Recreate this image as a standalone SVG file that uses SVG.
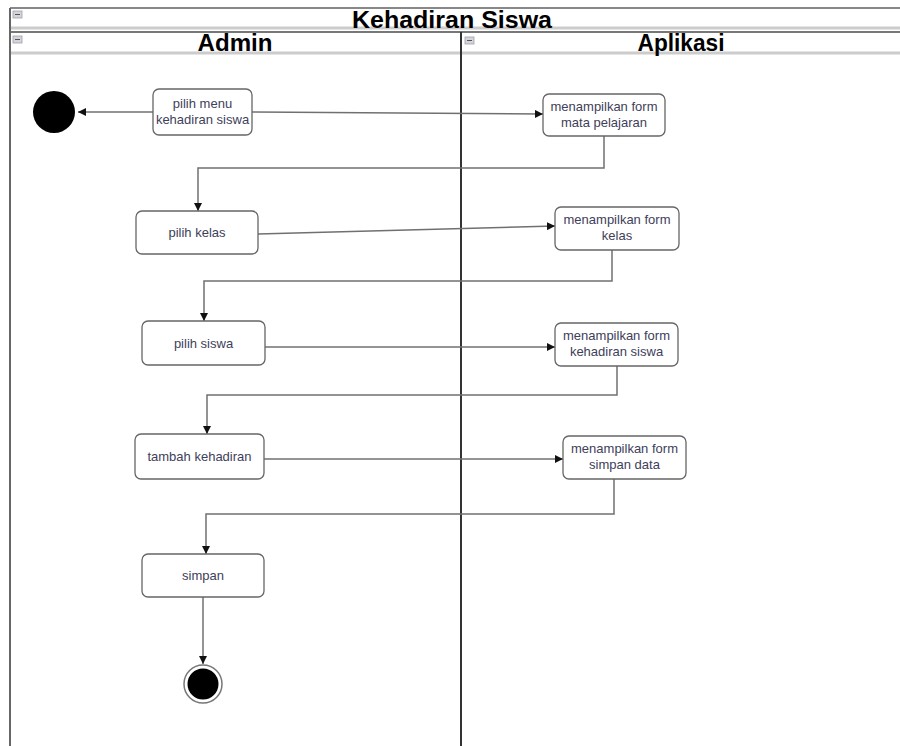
<svg xmlns="http://www.w3.org/2000/svg" width="900" height="746" viewBox="0 0 900 746">
<defs>
<style>
.hdr{font-family:"Liberation Sans",Arial,sans-serif;font-weight:bold;font-size:23px;fill:#000;text-anchor:middle}
.lbl{font-family:"Liberation Sans",Arial,sans-serif;font-size:13px;fill:#40405a;text-anchor:middle}
.box{fill:#fff;stroke:#666;stroke-width:1.3}
.con{fill:none;stroke:#707070;stroke-width:1.5}
.icon{fill:#d4d4dc;stroke:#a0a0a8;stroke-width:0.8}
</style>
<marker id="arr" viewBox="0 0 10 10" refX="10" refY="5" markerWidth="8" markerHeight="8" markerUnits="userSpaceOnUse" orient="auto">
<path d="M0,0 L10,5 L0,10 z" fill="#111"/>
</marker>
</defs>
<rect width="900" height="746" fill="#fff"/>
<g id="frame">
<line x1="10" y1="8" x2="900" y2="8" stroke="#888" stroke-width="2"/>
<line x1="10" y1="28" x2="900" y2="28" stroke="#ccc" stroke-width="3"/>
<line x1="10" y1="32" x2="900" y2="32" stroke="#777" stroke-width="2"/>
<line x1="10" y1="53" x2="900" y2="53" stroke="#ccc" stroke-width="3"/>
<line x1="10" y1="8" x2="10" y2="746" stroke="#666" stroke-width="2"/>
<line x1="461" y1="32" x2="461" y2="746" stroke="#333" stroke-width="2"/>
<rect class="icon" x="13" y="11" width="9" height="7"/>
<line x1="15" y1="14.5" x2="20" y2="14.5" stroke="#555" stroke-width="1"/>
<rect class="icon" x="13" y="36" width="9" height="7"/>
<line x1="15" y1="39.5" x2="20" y2="39.5" stroke="#555" stroke-width="1"/>
<rect class="icon" x="465" y="37" width="9" height="7"/>
<line x1="467" y1="40.5" x2="472" y2="40.5" stroke="#555" stroke-width="1"/>
<text class="hdr" x="452" y="28" textLength="200" lengthAdjust="spacingAndGlyphs">Kehadiran Siswa</text>
<text class="hdr" x="235" y="51" textLength="75" lengthAdjust="spacingAndGlyphs">Admin</text>
<text class="hdr" x="681" y="51" textLength="87" lengthAdjust="spacingAndGlyphs">Aplikasi</text>
</g>
<g id="connectors">
<line class="con" x1="153" y1="112" x2="78" y2="112" marker-end="url(#arr)"/>
<line class="con" x1="252" y1="112" x2="543" y2="114" marker-end="url(#arr)"/>
<polyline class="con" points="604,136 604,168 198,168 198,211" marker-end="url(#arr)"/>
<line class="con" x1="258" y1="234" x2="555" y2="226" marker-end="url(#arr)"/>
<polyline class="con" points="612,250 612,281 204,281 204,321" marker-end="url(#arr)"/>
<line class="con" x1="265" y1="347" x2="555" y2="347" marker-end="url(#arr)"/>
<polyline class="con" points="617,366 617,395 207,395 207,434" marker-end="url(#arr)"/>
<line class="con" x1="264" y1="459" x2="563" y2="459" marker-end="url(#arr)"/>
<polyline class="con" points="614,479 614,514 206,514 206,554" marker-end="url(#arr)"/>
<line class="con" x1="203" y1="597" x2="203" y2="664" marker-end="url(#arr)"/>
</g>
<g id="initial">
<circle cx="54" cy="112" r="21" fill="#000"/>
</g>
<g id="final">
<circle cx="203" cy="684" r="19" fill="#fff" stroke="#777" stroke-width="1.5"/>
<circle cx="203" cy="684" r="15.5" fill="#000"/>
</g>
<g id="n1">
<rect class="box" x="153" y="89" width="99" height="46" rx="6"/>
<text class="lbl" x="202.5" y="108">pilih menu</text>
<text class="lbl" x="202.5" y="124">kehadiran siswa</text>
</g>
<g id="n2">
<rect class="box" x="543" y="94" width="122" height="42" rx="6"/>
<text class="lbl" x="604" y="111">menampilkan form</text>
<text class="lbl" x="604" y="127">mata pelajaran</text>
</g>
<g id="n3">
<rect class="box" x="136" y="211" width="122" height="43" rx="6"/>
<text class="lbl" x="197" y="237">pilih kelas</text>
</g>
<g id="n4">
<rect class="box" x="555" y="207" width="124" height="43" rx="6"/>
<text class="lbl" x="617" y="224">menampilkan form</text>
<text class="lbl" x="617" y="240">kelas</text>
</g>
<g id="n5">
<rect class="box" x="142" y="321" width="123" height="44" rx="6"/>
<text class="lbl" x="203.5" y="348">pilih siswa</text>
</g>
<g id="n6">
<rect class="box" x="555" y="323" width="123" height="43" rx="6"/>
<text class="lbl" x="616.5" y="340">menampilkan form</text>
<text class="lbl" x="616.5" y="356">kehadiran siswa</text>
</g>
<g id="n7">
<rect class="box" x="135" y="434" width="129" height="45" rx="6"/>
<text class="lbl" x="199.5" y="461">tambah kehadiran</text>
</g>
<g id="n8">
<rect class="box" x="563" y="436" width="123" height="43" rx="6"/>
<text class="lbl" x="624.5" y="453">menampilkan form</text>
<text class="lbl" x="624.5" y="469">simpan data</text>
</g>
<g id="n9">
<rect class="box" x="142" y="554" width="122" height="43" rx="6"/>
<text class="lbl" x="203" y="580">simpan</text>
</g>
</svg>
